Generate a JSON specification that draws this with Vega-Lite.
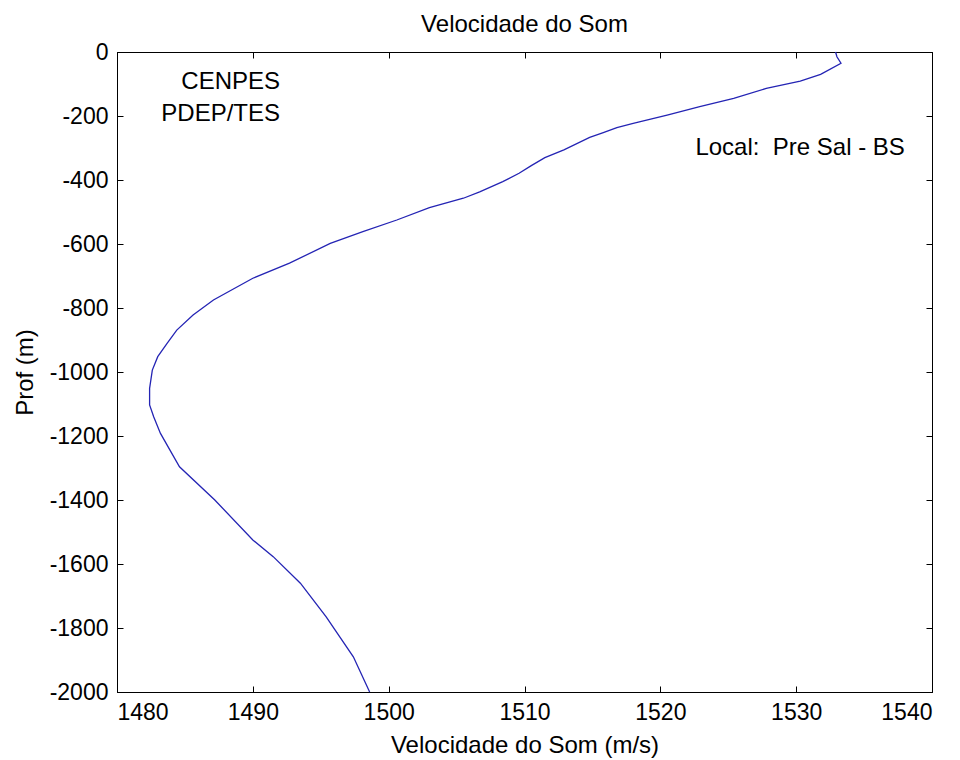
{
  "$schema": "https://vega.github.io/schema/vega-lite/v6.json",
  "width": 815,
  "height": 640,
  "autosize": "none",
  "padding": {"left": 117, "top": 52, "right": 28, "bottom": 68},
  "background": "white",
  "config": {
    "font": "Liberation Sans",
    "view": {"stroke": "black", "strokeWidth": 1},
    "axis": {"grid": false, "domainColor": "black", "tickColor": "black", "labelColor": "black", "titleColor": "black", "labelFont": "Liberation Sans", "titleFont": "Liberation Sans", "labelFontSize": 23, "titleFontSize": 24, "titleFontWeight": "normal", "tickSize": -6, "labelPadding": 15}
  },
  "title": {"text": "Velocidade do Som", "fontSize": 24, "fontWeight": "normal", "font": "Liberation Sans", "color": "black", "offset": 4},
  "data": {"values": [
    {"v": 1532.9, "p": 0},
    {"v": 1533.0, "p": -15},
    {"v": 1533.3, "p": -35},
    {"v": 1531.8, "p": -70},
    {"v": 1530.3, "p": -91},
    {"v": 1527.8, "p": -114},
    {"v": 1525.4, "p": -145},
    {"v": 1522.9, "p": -171},
    {"v": 1520.5, "p": -197},
    {"v": 1518.0, "p": -223},
    {"v": 1516.8, "p": -236},
    {"v": 1515.8, "p": -252},
    {"v": 1514.8, "p": -267},
    {"v": 1512.9, "p": -306},
    {"v": 1511.5, "p": -330},
    {"v": 1510.5, "p": -355},
    {"v": 1509.6, "p": -379},
    {"v": 1508.4, "p": -405},
    {"v": 1506.7, "p": -437},
    {"v": 1505.5, "p": -457},
    {"v": 1503.0, "p": -486},
    {"v": 1500.6, "p": -525},
    {"v": 1498.1, "p": -561},
    {"v": 1495.7, "p": -598},
    {"v": 1492.7, "p": -660},
    {"v": 1490.0, "p": -707},
    {"v": 1487.1, "p": -775},
    {"v": 1485.6, "p": -822},
    {"v": 1484.4, "p": -869},
    {"v": 1483.7, "p": -910},
    {"v": 1483.0, "p": -952},
    {"v": 1482.6, "p": -994},
    {"v": 1482.4, "p": -1051},
    {"v": 1482.4, "p": -1103},
    {"v": 1482.7, "p": -1140},
    {"v": 1483.2, "p": -1192},
    {"v": 1483.9, "p": -1244},
    {"v": 1484.6, "p": -1296},
    {"v": 1487.2, "p": -1400},
    {"v": 1490.0, "p": -1525},
    {"v": 1491.5, "p": -1577},
    {"v": 1493.5, "p": -1660},
    {"v": 1495.4, "p": -1765},
    {"v": 1497.4, "p": -1890},
    {"v": 1498.6, "p": -2000}
  ]},
  "resolve": {"axis": {"x": "independent", "y": "independent"}},
  "layer": [
    {
      "mark": {"type": "line", "color": "#2424b4", "strokeWidth": 1.3},
      "encoding": {
        "x": {"field": "v", "type": "quantitative", "scale": {"domain": [1480, 1540], "nice": false, "zero": false}, "axis": {"title": "Velocidade do Som (m/s)", "values": [1480, 1490, 1500, 1510, 1520, 1530, 1540], "labelExpr": "toString(datum.value)", "titlePadding": 9}},
        "y": {"field": "p", "type": "quantitative", "scale": {"domain": [-2000, 0], "nice": false, "zero": false}, "axis": {"title": "Prof (m)", "values": [0, -200, -400, -600, -800, -1000, -1200, -1400, -1600, -1800, -2000], "labelExpr": "toString(datum.value)", "titlePadding": 12}},
        "order": {"field": "p", "sort": "descending"}
      }
    },
    {
      "mark": {"type": "point", "opacity": 0},
      "encoding": {
        "x": {"field": "v", "type": "quantitative", "axis": {"orient": "top", "title": null, "labels": false, "values": [1480, 1490, 1500, 1510, 1520, 1530, 1540]}},
        "y": {"field": "p", "type": "quantitative", "axis": {"orient": "right", "title": null, "labels": false, "values": [0, -200, -400, -600, -800, -1000, -1200, -1400, -1600, -1800, -2000]}}
      }
    },
    {
      "data": {"values": [
        {"t": "CENPES", "x": 1492.0, "y": -95},
        {"t": "PDEP/TES", "x": 1492.0, "y": -194},
        {"t": "Local:\u00a0 Pre Sal - BS", "x": 1538.0, "y": -300}
      ]},
      "mark": {"type": "text", "font": "Liberation Sans", "fontSize": 24, "color": "black", "align": "right", "baseline": "middle"},
      "encoding": {
        "x": {"field": "x", "type": "quantitative", "axis": null},
        "y": {"field": "y", "type": "quantitative", "axis": null},
        "text": {"field": "t"}
      }
    }
  ]
}
